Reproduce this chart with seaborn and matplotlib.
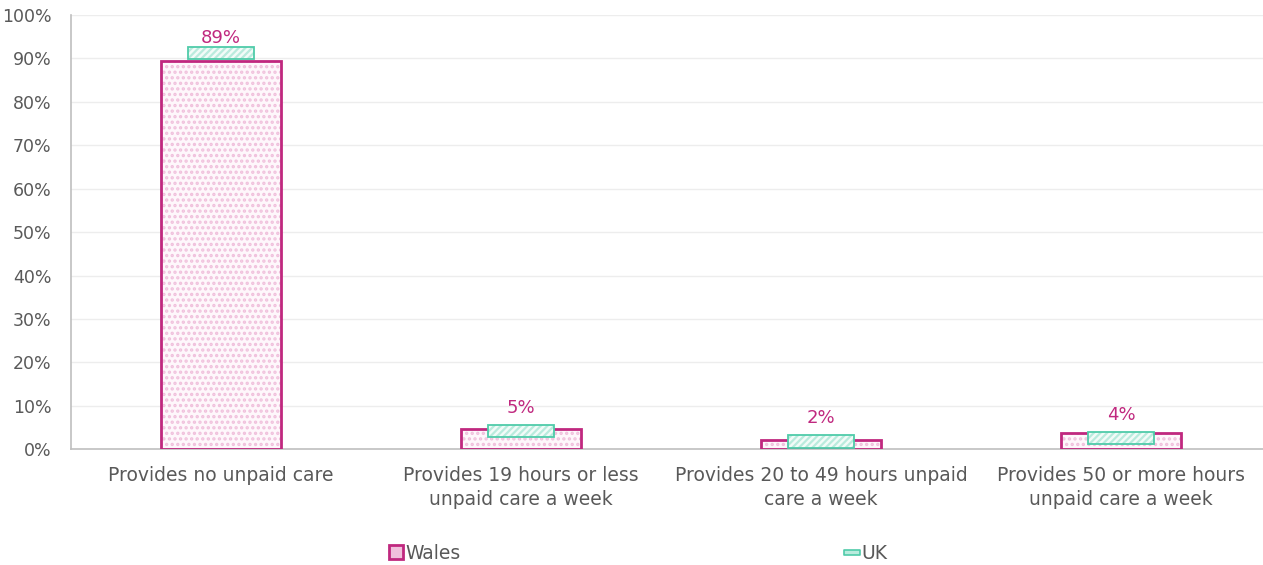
import numpy as np
import pandas as pd
import seaborn as sns
import matplotlib.pyplot as plt
from matplotlib.lines import Line2D
from matplotlib.path import Path
from matplotlib.ticker import FuncFormatter

categories = [
    "Provides no unpaid care",
    "Provides 19 hours or less\nunpaid care a week",
    "Provides 20 to 49 hours unpaid\ncare a week",
    "Provides 50 or more hours\nunpaid care a week",
]
wales = [89.4, 4.7, 2.1, 3.7]
uk = [91.2, 4.3, 1.8, 2.6]
labels = ["89%", "5%", "2%", "4%"]

pink = "#C0287F"
pink_light = "#F0C0DC"
teal = "#4FCBA9"
teal_light = "#B9EBDD"
grey_text = "#595959"

sns.set_theme(style="white")
plt.rcParams["font.family"] = ["DejaVu Sans"]
plt.rcParams["hatch.linewidth"] = 1.6

df = pd.DataFrame({"category": categories, "wales": wales})

fig = plt.figure(figsize=(12.63, 5.65), dpi=100)
ax = fig.add_axes([71 / 1263, 115.7 / 565, 1200 / 1263, 434.3 / 565])

# Wales bars: dotted fill, then magenta outline on top
sns.barplot(data=df, x="category", y="wales", ax=ax, color="#FFF6FB",
            width=0.4, linewidth=0, edgecolor=pink_light, hatch="...", zorder=2)
sns.barplot(data=df, x="category", y="wales", ax=ax, color=pink, fill=False,
            width=0.4, linewidth=2, zorder=3)

# UK floating markers centred on the UK value
x = np.arange(len(categories))
half = 1.4
uk_arr = np.array(uk)
ax.bar(x, 2 * half, bottom=uk_arr - half, width=0.22, facecolor="#F2FBF8",
       edgecolor=teal_light, hatch="/////", linewidth=0, zorder=4)
ax.bar(x, 2 * half, bottom=uk_arr - half, width=0.22, facecolor="none",
       edgecolor=teal, linewidth=1.3, zorder=5)

for xi, w, u, lab in zip(x, wales, uk, labels):
    top = max(w, u + half)
    ax.text(xi, min(top + 3.9, 94.7), lab, ha="center", va="center",
            color=pink, fontsize=13, zorder=6)

ax.set_ylim(0, 100)
ax.set_xlim(-0.5, 3.5)
ax.set_yticks(np.arange(0, 101, 10))
ax.yaxis.set_major_formatter(FuncFormatter(lambda v, p: f"{v:.0f}%"))
ax.grid(axis="y", color="#EDEDED", linewidth=1, zorder=0)
ax.set_axisbelow(True)
ax.set_xlabel("")
ax.set_ylabel("")
ax.tick_params(axis="y", length=0, pad=14, labelsize=12.5, labelcolor=grey_text)
ax.tick_params(axis="x", length=0, pad=12, labelsize=13.5, labelcolor=grey_text)
for t in ax.get_xticklabels():
    t.set_linespacing(1.35)
for side in ["top", "right"]:
    ax.spines[side].set_visible(False)
for side in ["left", "bottom"]:
    ax.spines[side].set_color("#BFBFBF")
    ax.spines[side].set_linewidth(1.2)

flat = Path([(-1, -0.3), (1, -0.3), (1, 0.3), (-1, 0.3), (-1, -0.3)],
            [Path.MOVETO, Path.LINETO, Path.LINETO, Path.LINETO, Path.CLOSEPOLY])
handles = [
    Line2D([], [], marker="s", markersize=10, markerfacecolor=pink_light,
           markeredgecolor=pink, markeredgewidth=2, linestyle="none"),
    Line2D([], [], marker=flat, markersize=12, markerfacecolor=teal_light,
           markeredgecolor=teal, markeredgewidth=1.2, linestyle="none"),
]
fig.legend(handles, ["Wales", "UK"], loc="center", bbox_to_anchor=(0.505, 0.021),
           ncol=2, frameon=False, fontsize=13.5, labelcolor=grey_text,
           handlelength=0.8, handletextpad=0.1, columnspacing=20.5)

fig.savefig("out.png", dpi=100)
